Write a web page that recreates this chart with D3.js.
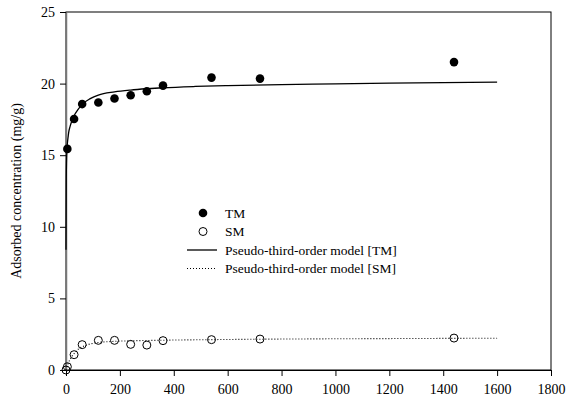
<!DOCTYPE html>
<html>
<head>
<meta charset="utf-8">
<script src="https://cdn.jsdelivr.net/npm/d3@7"></script>
<style>
  body { margin: 0; background: #fff; }
  svg text { font-family: "Liberation Serif", "Times New Roman", "DejaVu Serif", serif !important; }
</style>
</head>
<body>
<svg id="chart"></svg>
<script>
// measured data (time in min, q in mg/g)
var tmTime = [5, 30, 60, 120, 180, 240, 300, 360, 540, 720, 1440];
var tmValue = [15.44, 17.53, 18.57, 18.68, 18.96, 19.19, 19.47, 19.86, 20.42, 20.35, 21.5];

var smTime = [0, 5, 30, 60, 120, 180, 240, 300, 360, 540, 720, 1440];
var smValue = [0.0, 0.23, 1.07, 1.77, 2.07, 2.07, 1.79, 1.74, 2.05, 2.12, 2.16, 2.23];

// model curves
var tmModelTime = [0, 1, 2, 3, 5, 8, 10, 15, 20, 30, 45, 60, 90, 120, 180, 240, 300, 360, 480, 600, 800, 1000, 1200, 1400, 1600];
var tmModelValue = [8.4, 13.4, 14.6, 15.2, 15.8, 16.3, 16.6, 17.0, 17.3, 17.75, 18.2, 18.55, 18.95, 19.2, 19.42, 19.55, 19.64, 19.71, 19.8, 19.86, 19.93, 19.98, 20.03, 20.07, 20.1];

var smModelTime = [0, 5, 10, 20, 30, 45, 60, 90, 120, 180, 240, 300, 360, 540, 720, 1000, 1300, 1600];
var smModelValue = [0.0, 0.3, 0.55, 0.9, 1.15, 1.45, 1.62, 1.82, 1.92, 2.0, 2.04, 2.06, 2.08, 2.12, 2.15, 2.18, 2.2, 2.22];

var xTicks = [0, 200, 400, 600, 800, 1000, 1200, 1400, 1600, 1800];
var yTicks = [0, 5, 10, 15, 20, 25];

var legendLabels = ["TM", "SM", "Pseudo-third-order model [TM]", "Pseudo-third-order model [SM]"];

var W = 572, H = 398;
var margin = {top: 12, right: 21, bottom: 28, left: 66};
var width = W - margin.left - margin.right;
var height = H - margin.top - margin.bottom;

var x = d3.scaleLinear().domain([0, 1800]).range([0, width]);
var y = d3.scaleLinear().domain([0, 25]).range([height, 0]);

var svg = d3.select("#chart")
  .attr("width", W)
  .attr("height", H)
  .append("g")
  .attr("transform", "translate(" + margin.left + "," + margin.top + ")");

// frame
svg.append("rect")
  .attr("x", 0).attr("y", 0)
  .attr("width", width).attr("height", height)
  .attr("fill", "none")
  .attr("stroke", "#000")
  .attr("stroke-width", 1);

var xAxis = svg.append("g")
  .attr("transform", "translate(0," + height + ")")
  .call(d3.axisBottom(x).tickValues(xTicks).tickFormat(d3.format("d"))
    .tickSize(6).tickPadding(8).tickSizeOuter(0));

var yAxis = svg.append("g")
  .call(d3.axisLeft(y).tickValues(yTicks).tickFormat(d3.format("d"))
    .tickSize(6).tickPadding(5).tickSizeOuter(0));

[xAxis, yAxis].forEach(function(a) {
  a.attr("font-family", null);
  a.select(".domain").attr("stroke", "#000");
  a.selectAll("line").attr("stroke", "#000");
  a.selectAll("text")
    .style("font-size", "14px")
    .attr("fill", "#000");
});
yAxis.select(".domain").attr("stroke", "#777").attr("stroke-width", 1.5);

svg.append("text")
  .attr("transform", "rotate(-90)")
  .attr("x", -height / 2)
  .attr("y", -45)
  .style("text-anchor", "middle")
  .style("font-size", "14px")
  .text("Adsorbed concentration (mg/g)");

var line = d3.line()
  .x(function(d) { return x(d[0]); })
  .y(function(d) { return y(d[1]); })
  .curve(d3.curveMonotoneX);

svg.append("path")
  .datum(d3.zip(tmModelTime, tmModelValue))
  .attr("d", line)
  .attr("fill", "none")
  .attr("stroke", "#000")
  .attr("stroke-width", 1.3);

svg.append("path")
  .datum(d3.zip(smModelTime, smModelValue))
  .attr("d", line)
  .attr("fill", "none")
  .attr("stroke", "#000")
  .attr("stroke-width", 1.1)
  .attr("stroke-dasharray", "1,2");

svg.selectAll(".tm")
  .data(d3.zip(tmTime, tmValue))
  .enter()
  .append("circle")
  .attr("class", "tm")
  .attr("r", 4.3)
  .attr("fill", "#000")
  .attr("cx", function(d) { return x(d[0]); })
  .attr("cy", function(d) { return y(d[1]); });

svg.selectAll(".sm")
  .data(d3.zip(smTime, smValue))
  .enter()
  .append("circle")
  .attr("class", "sm")
  .attr("r", 4)
  .attr("fill", "none")
  .attr("stroke", "#000")
  .attr("stroke-width", 1)
  .attr("cx", function(d) { return x(d[0]); })
  .attr("cy", function(d) { return y(d[1]); });

// legend
var lg = svg.append("g").attr("transform", "translate(" + (187 - margin.left) + "," + (213 - margin.top) + ")");
var rowH = 18.5;

lg.append("circle").attr("cx", 16).attr("cy", 0).attr("r", 4.3).attr("fill", "#000");
lg.append("circle").attr("cx", 16).attr("cy", rowH).attr("r", 4).attr("fill", "none").attr("stroke", "#000");
lg.append("line").attr("x1", 0).attr("x2", 30).attr("y1", rowH * 2).attr("y2", rowH * 2)
  .attr("stroke", "#000").attr("stroke-width", 1.3);
lg.append("line").attr("x1", 0).attr("x2", 30).attr("y1", rowH * 3).attr("y2", rowH * 3)
  .attr("stroke", "#000").attr("stroke-width", 1.1).attr("stroke-dasharray", "1,2");

lg.selectAll(".lbl")
  .data(legendLabels)
  .enter()
  .append("text")
  .attr("class", "lbl")
  .attr("x", 38)
  .attr("y", function(d, i) { return i * rowH; })
  .attr("dy", "0.35em")
  .style("font-size", "13.5px")
  .text(function(d) { return d; });
</script>
</body>
</html>
